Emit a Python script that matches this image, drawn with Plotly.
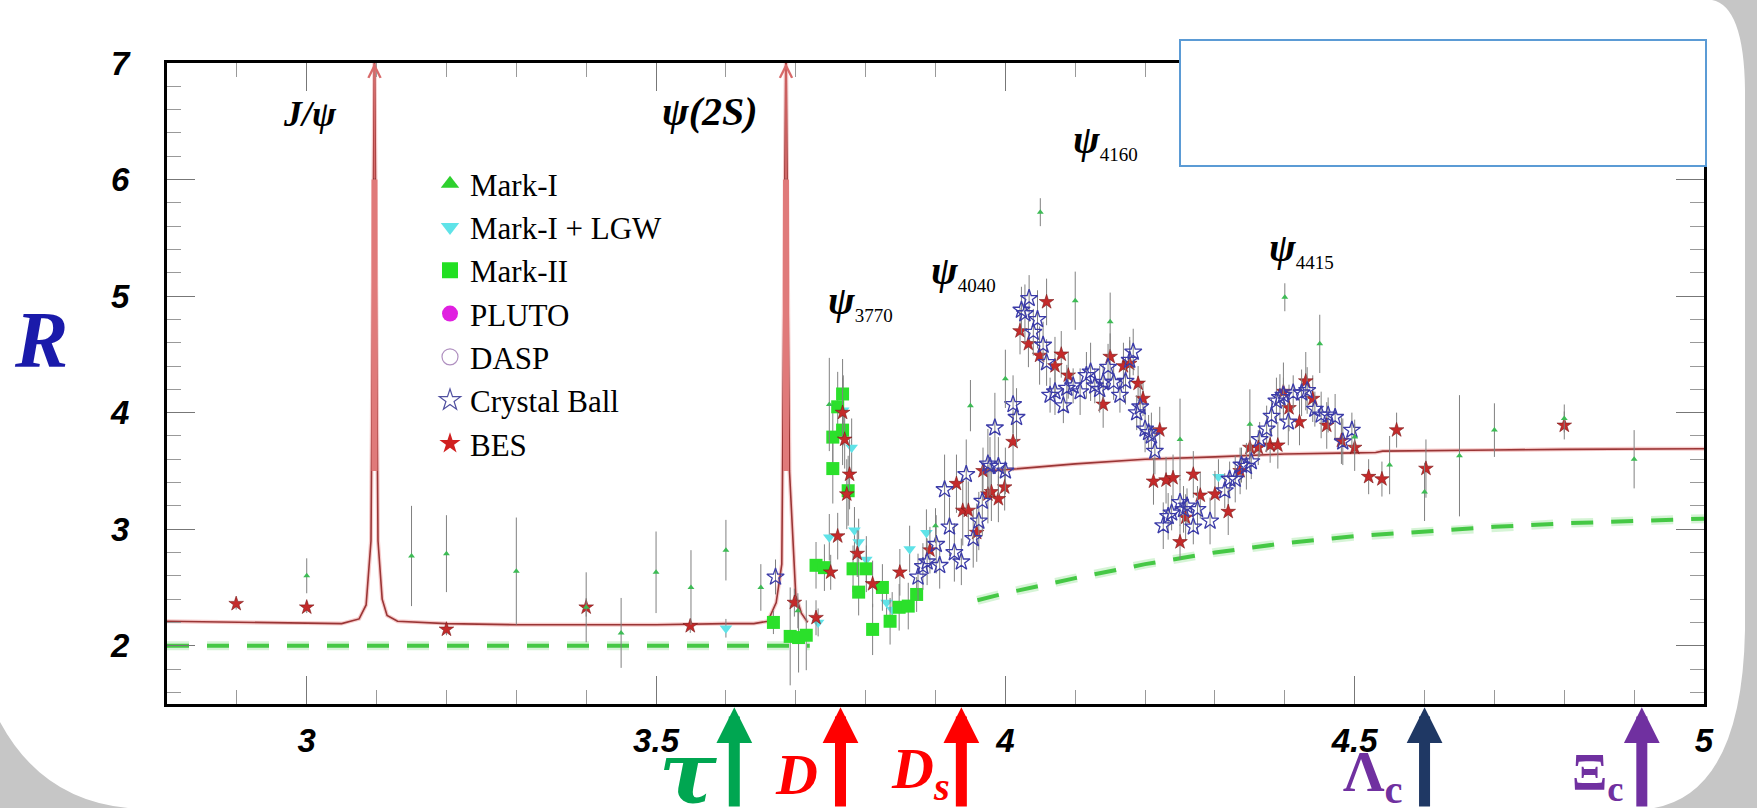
import plotly.graph_objects as go

# ---------------- data ----------------
mark1_x = [3.00, 3.15, 3.20, 3.30, 3.40, 3.45, 3.50, 3.55, 3.60, 3.65, 3.703, 3.748, 3.90, 3.95, 4.00,
           4.05, 4.10, 4.15, 4.25, 4.35, 4.40, 4.45, 4.50, 4.55, 4.60, 4.65, 4.70, 4.80, 4.90]
mark1_y = [2.60, 2.77, 2.79, 2.64, 2.33, 2.11, 2.63, 2.50, 2.82, 2.50, 2.30, 4.07, 3.03, 4.06, 4.29,
           5.72, 4.96, 4.78, 3.77, 3.90, 4.99, 4.59, 3.79, 3.55, 3.32, 3.63, 3.85, 3.95, 3.60]
mark1_err = [0.15, 0.43, 0.33, 0.46, 0.30, 0.30, 0.35, 0.32, 0.26, 0.20, 0.15, 0.40, 0.15, 0.22, 0.25,
             0.12, 0.25, 0.25, 0.35, 0.30, 0.12, 0.25, 0.15, 0.25, 0.25, 0.52, 0.23, 0.12, 0.25]

lgw_x = [3.60, 3.732, 3.748, 3.768, 3.780, 3.784, 3.790, 3.801, 3.830, 3.838, 3.863, 3.887, 4.305]
lgw_y = [2.15, 2.20, 2.93, 4.02, 3.70, 2.99, 2.89, 2.74, 2.37, 2.31, 2.83, 2.97, 3.45]
lgw_err = [0.08, 0.12, 0.20, 0.30, 0.25, 0.20, 0.20, 0.20, 0.15, 0.15, 0.20, 0.20, 0.15]

mark2_x = [3.668, 3.692, 3.704, 3.715, 3.729, 3.741, 3.753, 3.753, 3.767, 3.767, 3.775, 3.760, 3.782,
           3.790, 3.801, 3.810, 3.824, 3.835, 3.848, 3.861, 3.873]
mark2_y = [2.20, 2.08, 2.07, 2.09, 2.69, 2.67, 3.79, 3.52, 4.16, 3.85, 3.33, 4.05, 2.66,
           2.46, 2.66, 2.14, 2.50, 2.21, 2.33, 2.34, 2.44]
mark2_err = [0.10, 0.42, 0.30, 0.30, 0.20, 0.20, 0.30, 0.30, 0.30, 0.30, 0.30, 0.30, 0.20,
             0.20, 0.20, 0.22, 0.20, 0.20, 0.20, 0.20, 0.15]

cb_x = [3.671, 3.875, 3.882, 3.888, 3.901, 3.906, 3.913, 3.920, 3.927, 3.937, 3.944, 3.954, 3.962, 3.967,
        3.975, 3.978, 3.985, 3.990, 4.000, 4.011, 4.016, 4.023, 4.028, 4.034, 4.040, 4.046, 4.054, 4.059,
        4.064, 4.071, 4.083, 4.088, 4.097, 4.107, 4.116, 4.122, 4.128, 4.135, 4.140, 4.147, 4.155, 4.164,
        4.172, 4.178, 4.183, 4.188, 4.193, 4.200, 4.205, 4.209, 4.214, 4.226, 4.233, 4.238, 4.250, 4.255,
        4.260, 4.269, 4.275, 4.293, 4.314, 4.321, 4.329, 4.338, 4.345, 4.352, 4.364, 4.374, 4.381, 4.388,
        4.393, 4.398, 4.405, 4.412, 4.424, 4.432, 4.443, 4.452, 4.462, 4.472, 4.483, 4.496]
cb_y = [2.59, 2.59, 2.68, 2.72, 2.87, 2.69, 3.34, 3.02, 2.80, 2.72, 3.47, 2.92, 3.07, 3.24,
        3.56, 3.54, 3.87, 3.54, 3.50, 4.07, 3.96, 4.88, 4.85, 4.98, 4.69, 4.80, 4.58, 4.43,
        4.15, 4.18, 4.06, 4.21, 4.23, 4.18, 4.32, 4.35, 4.23, 4.20, 4.26, 4.39, 4.26, 4.15,
        4.27, 4.45, 4.52, 4.00, 4.05, 3.86, 3.83, 3.80, 3.67, 3.03, 3.11, 3.14, 3.23, 3.17,
        3.20, 3.02, 3.17, 3.07, 3.33, 3.43, 3.43, 3.55, 3.54, 3.58, 3.77, 3.86, 3.97, 4.10,
        4.13, 4.15, 3.92, 4.17, 4.17, 4.19, 4.03, 3.98, 3.98, 3.96, 3.75, 3.85]
cb_err = [0.15, 0.20, 0.20, 0.20, 0.25, 0.20, 0.30, 0.25, 0.25, 0.20, 0.30, 0.25, 0.25, 0.30,
          0.30, 0.25, 0.30, 0.25, 0.20, 0.25, 0.25, 0.20, 0.25, 0.20, 0.20, 0.25, 0.20, 0.20,
          0.15, 0.20, 0.15, 0.20, 0.15, 0.20, 0.20, 0.25, 0.15, 0.20, 0.15, 0.20, 0.15, 0.15,
          0.20, 0.20, 0.20, 0.15, 0.20, 0.20, 0.15, 0.20, 0.20, 0.20, 0.20, 0.15, 0.20, 0.20,
          0.15, 0.15, 0.20, 0.20, 0.15, 0.15, 0.20, 0.15, 0.20, 0.15, 0.15, 0.20, 0.15, 0.20,
          0.20, 0.15, 0.20, 0.15, 0.20, 0.20, 0.15, 0.20, 0.15, 0.20, 0.20, 0.15]

bes_x = [2.899, 3.000, 3.200, 3.400, 3.549, 3.698, 3.729, 3.750, 3.760, 3.767, 3.770, 3.777, 3.773, 3.788,
         3.810, 3.849, 3.892, 3.930, 3.939, 3.947, 3.959, 3.968, 3.975, 3.980, 3.990, 3.999, 4.011, 4.021,
         4.033, 4.049, 4.059, 4.071, 4.080, 4.090, 4.140, 4.150, 4.169, 4.178, 4.190, 4.197, 4.212, 4.221,
         4.230, 4.240, 4.250, 4.258, 4.269, 4.279, 4.300, 4.319, 4.336, 4.350, 4.362, 4.379, 4.390, 4.398,
         4.406, 4.421, 4.430, 4.440, 4.460, 4.481, 4.500, 4.520, 4.539, 4.560, 4.602, 4.800]
bes_y = [2.36, 2.33, 2.14, 2.33, 2.17, 2.37, 2.24, 2.63, 2.94, 4.00, 3.77, 3.47, 3.30, 2.79,
         2.53, 2.63, 2.82, 3.39, 3.16, 3.16, 2.97, 3.50, 3.30, 3.32, 3.26, 3.36, 3.75, 4.70,
         4.59, 4.49, 4.95, 4.40, 4.50, 4.32, 4.07, 4.48, 4.40, 4.42, 4.25, 4.12, 3.41, 3.85,
         3.42, 3.44, 2.89, 3.10, 3.47, 3.29, 3.30, 3.15, 3.50, 3.70, 3.70, 3.72, 3.72, 4.18,
         4.04, 3.92, 4.27, 4.12, 3.89, 3.76, 3.70, 3.45, 3.43, 3.85, 3.52, 3.89]
bes_err = [0.05, 0.05, 0.05, 0.08, 0.06, 0.12, 0.15, 0.15, 0.20, 0.30, 0.25, 0.30, 0.30, 0.20,
           0.20, 0.20, 0.20, 0.25, 0.30, 0.25, 0.25, 0.20, 0.25, 0.25, 0.20, 0.20, 0.25, 0.20,
           0.20, 0.25, 0.20, 0.25, 0.20, 0.20, 0.20, 0.20, 0.20, 0.20, 0.15, 0.15, 0.20, 0.20,
           0.20, 0.20, 0.15, 0.20, 0.20, 0.20, 0.20, 0.20, 0.20, 0.20, 0.15, 0.15, 0.20, 0.25,
           0.20, 0.20, 0.25, 0.20, 0.20, 0.20, 0.20, 0.15, 0.15, 0.15, 0.25, 0.12]

# theory curve (red) and parton-model curve (green dashed)
theory_x = [2.80, 2.90, 3.00, 3.05, 3.075, 3.085, 3.092, 3.097, 3.102, 3.108, 3.115, 3.13, 3.20, 3.30,
            3.40, 3.50, 3.60, 3.64, 3.66, 3.672, 3.680, 3.686, 3.691, 3.700, 3.708, 3.717, None,
            3.97, 4.00, 4.10, 4.20, 4.30, 4.40, 4.50, 4.53, 4.54, 4.60, 4.70, 4.80, 4.90, 5.00]
theory_y = [2.21, 2.20, 2.19, 2.19, 2.23, 2.35, 2.90, 7.20, 2.90, 2.40, 2.26, 2.21, 2.19, 2.18,
            2.18, 2.18, 2.19, 2.19, 2.21, 2.37, 2.70, 7.20, 3.50, 2.43, 2.28, 2.20, None,
            3.50, 3.51, 3.56, 3.60, 3.62, 3.645, 3.655, 3.658, 3.67, 3.675, 3.68, 3.685, 3.69, 3.69]
parton_x = [2.80, 3.72, None, 3.96, 4.00, 4.10, 4.20, 4.30, 4.40, 4.50, 4.60, 4.70, 4.80, 4.90, 5.00]
parton_y = [2.00, 2.00, None, 2.39, 2.45, 2.58, 2.70, 2.80, 2.88, 2.94, 2.98, 3.02, 3.05, 3.07, 3.09]

peak_mass = [3.097, 3.686]
peak_band = [3.5, 6.0]

thresholds = [3.612, 3.764, 3.937, 4.600, 4.911]
threshold_colors = ["#00A651", "#FF0000", "#FF0000", "#1F3864", "#7030A0"]

resonances = [("<b><i>J/ψ</i></b>", 3.005, 6.56, 36),
              ("<b><i>ψ(2S)</i></b>", 3.577, 6.58, 40)]
psi_labels = [("3770", 3.743, 4.95), ("4040", 3.890, 5.21), ("4160", 4.094, 6.33), ("4415", 4.375, 5.40)]

# ---------------- layout geometry helpers ----------------
W, H = 1757, 808
ML, MR, MT, MB = 167, 53, 63, 104
PW = W - ML - MR
PH = H - MT - MB


def pp(x, y):
    return (x - ML) / PW, (H - MB - y) / PH


def path(points):
    cmds = []
    for c, pts in points:
        s = " ".join("%.5f,%.5f" % pp(*p) for p in pts)
        cmds.append(c + s)
    return " ".join(cmds) + " Z"


fig = go.Figure()

# parton model curve
fig.add_trace(go.Scatter(x=parton_x, y=parton_y, mode="lines", showlegend=False, hoverinfo="skip",
                         line=dict(color="rgba(120,220,120,0.30)", width=9, dash="22px,18px")))
fig.add_trace(go.Scatter(x=parton_x, y=parton_y, mode="lines", showlegend=False, hoverinfo="skip",
                         line=dict(color="#45C845", width=4, dash="22px,18px")))
# theory curve
fig.add_trace(go.Scatter(x=theory_x, y=theory_y, mode="lines", showlegend=False, hoverinfo="skip",
                         line=dict(color="rgba(235,140,140,0.45)", width=4)))
fig.add_trace(go.Scatter(x=theory_x, y=theory_y, mode="lines", showlegend=False, hoverinfo="skip",
                         line=dict(color="#9A3535", width=1.6)))
for m in peak_mass:
    fig.add_trace(go.Scatter(x=[m, m], y=peak_band, mode="lines", showlegend=False, hoverinfo="skip",
                             line=dict(color="#E07A7A", width=6)))

err_style = dict(type="data", color="#808080", thickness=1, width=0)

fig.add_trace(go.Scatter(x=lgw_x, y=lgw_y, mode="markers", showlegend=False,
                         error_y=dict(array=lgw_err, **err_style),
                         marker=dict(symbol="triangle-down", size=11, color="#5FE3E8")))
fig.add_trace(go.Scatter(x=mark2_x, y=mark2_y, mode="markers", showlegend=False,
                         error_y=dict(array=mark2_err, **err_style),
                         marker=dict(symbol="square", size=13, color="#2BE02B")))
fig.add_trace(go.Scatter(x=bes_x, y=bes_y, mode="markers", showlegend=False,
                         error_y=dict(array=bes_err, **err_style),
                         marker=dict(symbol="star", size=11, color="#C42A2A",
                                     line=dict(color="#7A1A1A", width=0.6))))
fig.add_trace(go.Scatter(x=cb_x, y=cb_y, mode="markers", showlegend=False,
                         error_y=dict(array=cb_err, **err_style),
                         marker=dict(symbol="star-open", size=13, color="#3B3BA8", line=dict(width=1.3))))
fig.add_trace(go.Scatter(x=mark1_x, y=mark1_y, mode="markers", showlegend=False,
                         error_y=dict(array=mark1_err, **err_style),
                         marker=dict(symbol="triangle-up", size=6, color="#3DBB55")))

# legend entries
legend_items = [("Mark-I", "triangle-up", "#2ED02E", None),
                ("Mark-I + LGW", "triangle-down", "#5FE3E8", None),
                ("Mark-II", "square", "#22E022", None),
                ("PLUTO", "circle", "#E020E0", None),
                ("DASP", "circle-open", "#B090C0", 1.2),
                ("Crystal Ball", "star-open", "#5050A0", 1.2),
                ("BES", "star", "#D02020", None)]
for name, sym, col, lw in legend_items:
    mk = dict(symbol=sym, size=16, color=col)
    if lw:
        mk["line"] = dict(width=lw)
    fig.add_trace(go.Scatter(x=[None], y=[None], mode="markers", name=name, marker=mk))

annotations = []
# peak arrows
for m in peak_mass:
    annotations.append(dict(x=m, y=7.0, ax=m, ay=peak_band[1], xref="x", yref="y", axref="x", ayref="y",
                            text="", showarrow=True, arrowhead=5, arrowsize=1.5, arrowwidth=1.6,
                            arrowcolor="#D86A6A"))
# threshold arrows
for tx, col in zip(thresholds, threshold_colors):
    annotations.append(dict(x=tx, y=-0.005, xref="x", yref="paper", ax=0, ay=104, text="",
                            showarrow=True, arrowhead=2, arrowwidth=11, arrowsize=0.65, arrowcolor=col))

annotations += [
    dict(x=3.546, y=pp(0, 772)[1], xref="x", yref="paper", yanchor="middle", text="<b><i>τ</i></b>",
         showarrow=False, font=dict(family="DejaVu Serif", size=86, color="#00A651")),
    dict(x=3.701, y=pp(0, 774)[1], xref="x", yref="paper", yanchor="middle", text="<b><i>D</i></b>",
         showarrow=False, font=dict(family="Liberation Serif", size=58, color="#FF0000")),
    dict(x=3.878, y=pp(0, 772)[1], xref="x", yref="paper", yanchor="middle",
         text="<b><i>D<sub>s</sub></i></b>",
         showarrow=False, font=dict(family="Liberation Serif", size=58, color="#FF0000")),
    dict(x=4.526, y=pp(0, 775)[1], xref="x", yref="paper", yanchor="middle", text="<b>Λ<sub>c</sub></b>",
         showarrow=False, font=dict(family="Liberation Serif", size=58, color="#7030A0")),
    dict(x=4.848, y=pp(0, 776)[1], xref="x", yref="paper", yanchor="middle", text="<b>Ξ<sub>c</sub></b>",
         showarrow=False, font=dict(family="Liberation Serif", size=52, color="#7030A0")),
    dict(x=pp(41, 0)[0], y=pp(0, 340)[1], xref="paper", yref="paper", xanchor="center", yanchor="middle",
         text="<b><i>R</i></b>", showarrow=False,
         font=dict(family="Liberation Serif", size=80, color="#1A1AAA")),
]
for txt, x, y, sz in resonances:
    annotations.append(dict(x=x, y=y, xref="x", yref="y", text=txt, showarrow=False, xanchor="center",
                            font=dict(family="Liberation Serif", size=sz, color="black")))
for sub, x, y in psi_labels:
    annotations.append(dict(x=x, y=y, xref="x", yref="y", xanchor="left",
                            text="<b><i>ψ</i></b><sub><span style='font-size:19px'>%s</span></sub>" % sub,
                            showarrow=False, font=dict(family="Liberation Serif", size=40, color="black")))

shapes = [
    # bottom-left shadow
    dict(type="path", xref="paper", yref="paper", layer="below", line=dict(width=0), fillcolor="#C6C6C6",
         path=path([("M", [(0, 722)]), ("Q", [(42, 800), (128, 808)]), ("L", [(0, 808)])])),
    # right shadow
    dict(type="path", xref="paper", yref="paper", layer="below", line=dict(width=0), fillcolor="#C6C6C6",
         path=path([("M", [(1712, 0)]), ("Q", [(1744, 6), (1745, 90)]), ("L", [(1745, 630)]),
                    ("Q", [(1742, 792), (1654, 808)]), ("L", [(1757, 808)]), ("L", [(1757, 0)])])),
    # text box
    dict(type="rect", xref="paper", yref="paper", layer="above",
         x0=pp(1180, 0)[0], x1=pp(1706, 0)[0], y0=pp(0, 166)[1], y1=pp(0, 40)[1],
         line=dict(color="#5B9BD5", width=2), fillcolor="white"),
]

tickfont = dict(family="Liberation Sans", size=33, color="black", weight="bold", style="italic")
fig.update_layout(
    width=W, height=H, margin=dict(l=ML, r=MR, t=MT, b=MB),
    paper_bgcolor="white", plot_bgcolor="white",
    annotations=annotations, shapes=shapes,
    legend=dict(x=pp(430, 0)[0], y=pp(0, 157)[1], xanchor="left", yanchor="top",
                bgcolor="rgba(0,0,0,0)", itemsizing="trace",
                font=dict(family="Liberation Serif", size=31, color="black")),
    xaxis=dict(range=[2.8, 5.0], tick0=0, dtick=0.5, showgrid=False, zeroline=False,
               showline=True, linecolor="black", linewidth=3, mirror="ticks",
               ticks="inside", ticklen=28, tickcolor="#777", tickwidth=1,
               minor=dict(ticks="inside", dtick=0.1, tick0=0, ticklen=14, tickcolor="#999", tickwidth=1),
               tickfont=tickfont, ticklabelstandoff=5),
    yaxis=dict(range=[1.5, 7.0], tick0=0, dtick=1, showgrid=False, zeroline=False,
               showline=True, linecolor="black", linewidth=3, mirror="ticks",
               ticks="inside", ticklen=28, tickcolor="#777", tickwidth=1,
               minor=dict(ticks="inside", dtick=0.2, tick0=0, ticklen=14, tickcolor="#999", tickwidth=1),
               tickfont=tickfont, ticklabelstandoff=28),
)

fig.write_html("out.html")
